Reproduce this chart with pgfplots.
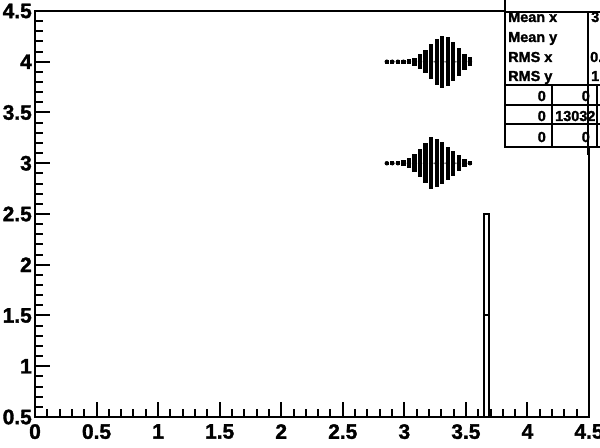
\documentclass[border=0pt]{standalone}
\usepackage{pgfplots}
\pgfplotsset{compat=1.18}
\usepackage{pgfplotstable}
\usepackage{fontspec}
\setmainfont{Liberation Sans}[BoldFont={Liberation Sans Bold}]
\newfontfamily\heavy{Liberation Sans Bold}[FakeBold=1.6]

\pgfplotstableread{
x y e
2.8575 4 0.020
2.9025 4 0.020
2.9475 4 0.020
2.9925 4 0.020
3.0375 4 0.025
3.0825 4 0.039
3.1275 4 0.074
3.1725 4 0.113
3.2175 4 0.172
3.2625 4 0.227
3.3075 4 0.256
3.3525 4 0.241
3.3975 4 0.192
3.4425 4 0.138
3.4875 4 0.079
3.5325 4 0.044
}\uppertab

\pgfplotstableread{
x y e
2.8575 3 0.015
2.9025 3 0.020
2.9475 3 0.020
2.9925 3 0.030
3.0375 3 0.049
3.0825 3 0.089
3.1275 3 0.138
3.1725 3 0.197
3.2175 3 0.256
3.2625 3 0.236
3.3075 3 0.207
3.3525 3 0.163
3.3975 3 0.123
3.4425 3 0.079
3.4875 3 0.039
3.5325 3 0.020
}\lowertab

\begin{document}
\begin{tikzpicture}
\begin{axis}[name=ax, scale only axis, width=554bp, height=406bp,
  xmin=0, xmax=4.5, ymin=0.5, ymax=4.5,
  xtick={0,0.5,1,1.5,2,2.5,3,3.5,4,4.5},
  ytick={0.5,1,1.5,2,2.5,3,3.5,4,4.5},
  minor x tick num=4, minor y tick num=4,
  tick align=inside, tick pos=left,
  major tick length=15bp, minor tick length=8bp,
  axis line style={line width=2bp},
  tick style={line width=2bp, black},
  /pgf/number format/assume math mode=true,
  ticklabel style={font=\heavy\fontsize{21}{21}\selectfont},
  xticklabel style={anchor=north, inner sep=0pt, yshift=-7bp},
  yticklabel style={anchor=east, inner sep=0pt, xshift=-3bp},
  clip=true]
\addplot[black, only marks, mark=none,
  error bars/.cd, y dir=both, y explicit, error mark=none,
  error bar style={line width=4.3bp, black, solid}]
  table[x=x, y=y, y error=e] {\uppertab};
\addplot[black, only marks, mark=none,
  error bars/.cd, y dir=both, y explicit, error mark=none,
  error bar style={line width=4.3bp, black, solid}]
  table[x=x, y=y, y error=e] {\lowertab};
\addplot[black, line width=2bp, line cap=rect, line join=miter, mark=none]
  coordinates {(3.645,0.5) (3.69,0.5) (3.69,2.5) (3.645,2.5) (3.645,0.5)};
\addplot[black, line width=2bp, mark=none]
  coordinates {(3.645,1.5) (3.69,1.5)};
\end{axis}
\begin{scope}[x=1bp, y=-1bp, shift={(ax.south west)}, shift={(-35,-417)}]
  \fill[white] (505,-10) rectangle (620,147);
  \begin{scope}[every node/.style={inner sep=0pt, font=\heavy\fontsize{14.5}{14.5}\selectfont}]
    \node[anchor=base west] at (508,22) {Mean x};
    \node[anchor=base west] at (508,42) {Mean y};
    \node[anchor=base west] at (508,62) {RMS x};
    \node[anchor=base west] at (508,81) {RMS y};
    \node[anchor=base west] at (591,22) {3.29};
    \node[anchor=base west] at (602,42) {3.1};
    \node[anchor=base west] at (590,62) {0.213};
    \node[anchor=base west] at (591,81) {1.11};
    \node[anchor=base east] at (546,101) {0};
    \node[anchor=base east] at (590,101) {0};
    \node[anchor=base east] at (546,121) {0};
    \node[anchor=base west] at (555,121) {13032};
    \node[anchor=base east] at (546,142) {0};
    \node[anchor=base east] at (590,142) {0};
  \end{scope}
  \draw[line width=2bp] (505,-10) -- (505,147) -- (620,147);
  \draw[line width=2bp] (505,12) -- (620,12);
  \draw[line width=2bp] (588,12) -- (588,155);
  \draw[line width=2bp] (505,85) -- (620,85);
  \draw[line width=2bp] (505,105) -- (620,105);
  \draw[line width=2bp] (505,124) -- (620,124);
  \draw[line width=2bp] (552,85) -- (552,147);
  \draw[line width=2bp] (597,85) -- (597,147);
  \pgfresetboundingbox
  \path[use as bounding box] (0,0) rectangle (600,448);
\end{scope}
\end{tikzpicture}
\end{document}
